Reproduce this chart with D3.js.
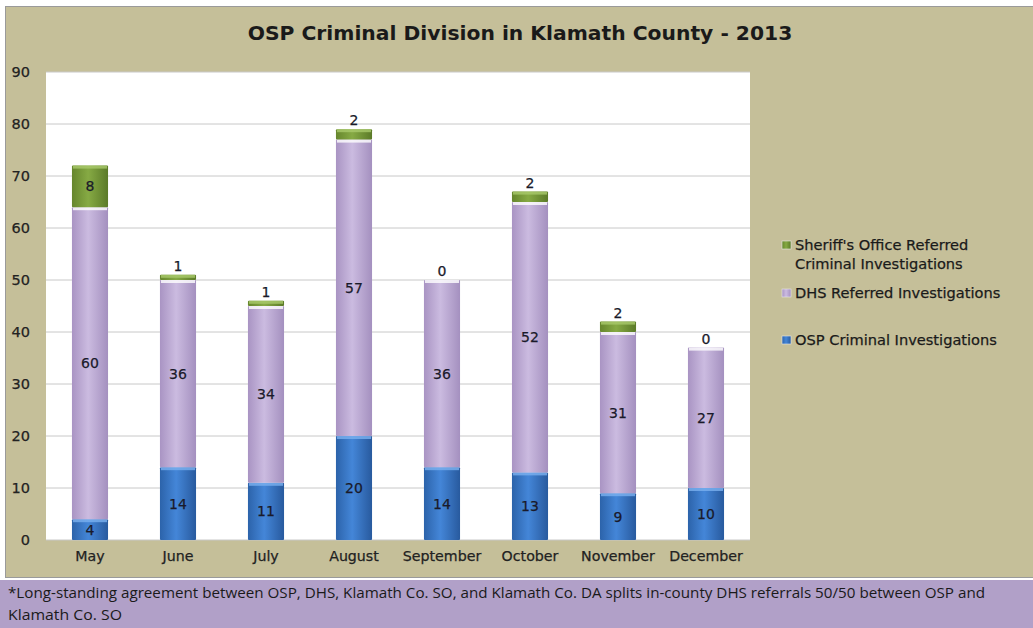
<!DOCTYPE html>
<html><head><meta charset="utf-8">
<script src="https://cdn.jsdelivr.net/npm/d3@7"></script>
<style>body{margin:0;background:#fff;}svg{display:block;}</style>
</head><body>
<script>
const months = ["May","June","July","August","September","October","November","December"];
const ospValues = [4,14,11,20,14,13,9,10];
const dhsValues = [60,36,34,57,36,52,31,27];
const sheriffValues = [8,1,1,2,0,2,2,0];
const seriesNames = ["OSP Criminal Investigations","DHS Referred Investigations","Sheriff's Office Referred Criminal Investigations"];
const yTicks = [0,10,20,30,40,50,60,70,80,90];
const titleText = "OSP Criminal Division in Klamath County - 2013";
const footLines = ["*Long-standing agreement between OSP, DHS, Klamath Co. SO, and Klamath  Co. DA splits in-county DHS referrals 50/50 between OSP and","Klamath Co. SO"];

const W=1033,H=628;
const svg=d3.select("body").append("svg").attr("width",W).attr("height",H);
const defs=svg.append("defs");
const cols=[
 {id:"gOsp",stops:["#2c63aa","#4486d8","#285a9e"],top:"#7ab0ef"},
 {id:"gDhs",stops:["#a994c3","#cbbbe0","#a490bf"],top:"#ffffff"},
 {id:"gSh",stops:["#66862d","#86aa44","#5b7a28"],top:"#a9c96c"}
];
cols.forEach(c=>{
 const g=defs.append("linearGradient").attr("id",c.id).attr("x1","0").attr("x2","1").attr("y1","0").attr("y2","0");
 g.append("stop").attr("offset","0%").attr("stop-color",c.stops[0]);
 g.append("stop").attr("offset","45%").attr("stop-color",c.stops[1]);
 g.append("stop").attr("offset","100%").attr("stop-color",c.stops[2]);
});

const font="DejaVu Sans";
svg.append("rect").attr("x",5.5).attr("y",6.5).attr("width",W).attr("height",571).attr("fill","#c5bf99").attr("stroke","#9a9a9a");
svg.append("rect").attr("x",0).attr("y",578).attr("width",W).attr("height",2).attr("fill","#ffffff");
svg.append("rect").attr("x",0).attr("y",580).attr("width",W).attr("height",48).attr("fill","#b1a0c8");

svg.append("text").attr("x",520).attr("y",40).attr("text-anchor","middle")
 .attr("font-family",font).attr("font-weight","bold").attr("font-size",20.3).attr("fill","#1a1a1a").text(titleText);

const x0=46,x1=750,yTop=72,yBot=540;
svg.append("rect").attr("x",x0).attr("y",yTop).attr("width",x1-x0).attr("height",yBot-yTop).attr("fill","#ffffff");

const x=d3.scaleBand().domain(months).range([x0,x1]).paddingInner(0.59).paddingOuter(0.295);
const y=d3.scaleLinear().domain([0,90]).range([yBot,yTop]);

const grid=svg.append("g");
yTicks.forEach(t=>{
 grid.append("line").attr("x1",x0).attr("x2",x1).attr("y1",y(t)).attr("y2",y(t)).attr("stroke","#c8c8c8").attr("stroke-width",1);
});
const yAxis=d3.axisLeft(y).tickValues(yTicks).tickSize(0).tickPadding(0);
const ya=svg.append("g").attr("transform","translate(30,0)").call(yAxis);
ya.select(".domain").remove();
ya.selectAll("text").attr("font-family",font).attr("font-size",14.5).attr("fill","#222").attr("dy","0.3em")
 .attr("stroke","#222").attr("stroke-width",0.25);

const xAxis=d3.axisBottom(x).tickSize(0).tickPadding(0);
const xa=svg.append("g").attr("transform","translate(0,551)").call(xAxis);
xa.select(".domain").remove();
xa.selectAll("text").attr("font-family",font).attr("font-size",14.2).attr("fill","#222").attr("dy","0.71em")
 .attr("stroke","#222").attr("stroke-width",0.25);

const data=months.map((m,i)=>({m,vals:[ospValues[i],dhsValues[i],sheriffValues[i]]}));
const stack=d3.stack().keys([0,1,2]).value((d,k)=>d.vals[k]);
const layers=stack(data);
const fills=["url(#gOsp)","url(#gDhs)","url(#gSh)"];
layers.forEach((layer,k)=>{
 const g=svg.append("g");
 layer.forEach((s,i)=>{
  const v=s[1]-s[0];
  const bx=x(s.data.m),bw=x.bandwidth();
  if(v>0){
   g.append("rect").attr("x",bx).attr("y",y(s[1])).attr("width",bw).attr("height",y(s[0])-y(s[1]))
    .attr("fill",fills[k]).attr("rx",1);
   g.append("rect").attr("x",bx+1).attr("y",y(s[1])).attr("width",bw-2).attr("height",Math.min(3,y(s[0])-y(s[1])))
    .attr("fill",cols[k].top).attr("opacity",0.8);
  }
  const inside=(y(s[0])-y(s[1]))>=20;
  const ly=inside?(y(s[0])+y(s[1]))/2:y(s[1])-9;
  g.append("text").attr("x",bx+bw/2).attr("y",ly).attr("dy","0.35em").attr("text-anchor","middle")
   .attr("font-family",font).attr("font-size",14).attr("fill","#1a1a2a")
   .attr("stroke","#1a1a2a").attr("stroke-width",0.25).text(v);
 });
});

const legend=[
 {k:2,lines:["Sheriff's Office Referred","Criminal Investigations"],y:245},
 {k:1,lines:["DHS Referred Investigations"],y:293},
 {k:0,lines:["OSP Criminal Investigations"],y:340}
];
legend.forEach(l=>{
 svg.append("rect").attr("x",782).attr("y",l.y-4).attr("width",9).attr("height",8).attr("fill",fills[l.k]).attr("stroke","#e8e8e8").attr("stroke-width",0.6);
 l.lines.forEach((t,j)=>{
  svg.append("text").attr("x",795).attr("y",l.y+j*19).attr("dy","0.35em")
   .attr("font-family",font).attr("font-size",14.6).attr("fill","#1a1a1a")
   .attr("stroke","#1a1a1a").attr("stroke-width",0.25).text(t);
 });
});

const footLens=[977,114];
footLines.forEach((t,j)=>{
 svg.append("text").attr("x",8).attr("y",593+j*22).attr("dy","0.35em")
  .attr("font-family","Open Sans").attr("font-size",15).attr("fill","#1a1a1a")
  .attr("textLength",footLens[j]).attr("lengthAdjust","spacingAndGlyphs").text(t);
});
</script>
</body></html>
